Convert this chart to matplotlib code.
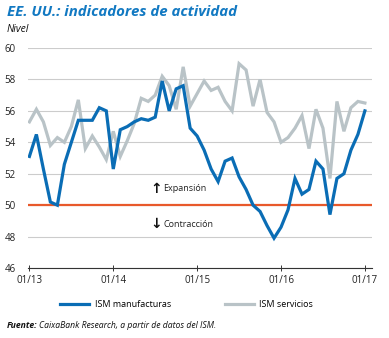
import matplotlib
matplotlib.use("Agg")
import matplotlib.pyplot as plt
from matplotlib.lines import Line2D

# monthly PMI readings, Jan 2013 - Jan 2017
ism_manufacturas = [
    53.1, 54.5, 52.3, 50.2, 50.0, 52.6, 54.0, 55.4, 55.4, 55.4, 56.2, 56.0,
    52.3, 54.8, 55.0, 55.3, 55.5, 55.4, 55.6, 57.9, 56.0, 57.4, 57.6, 54.9,
    54.4, 53.5, 52.3, 51.5, 52.8, 53.0, 51.8, 51.0, 50.0, 49.6, 48.7, 47.9,
    48.6, 49.7, 51.7, 50.7, 51.0, 52.8, 52.3, 49.4, 51.7, 52.0, 53.5, 54.5,
    56.0,
]
ism_servicios = [
    55.3, 56.1, 55.3, 53.8, 54.3, 54.0, 55.0, 56.7, 53.6, 54.4, 53.7, 52.9,
    54.7, 53.1, 54.1, 55.2, 56.8, 56.6, 57.0, 58.2, 57.6, 56.1, 58.8, 56.3,
    57.1, 57.9, 57.3, 57.5, 56.6, 56.0, 59.0, 58.6, 56.3, 58.0, 55.9, 55.3,
    54.0, 54.3, 54.9, 55.7, 53.6, 56.1, 54.9, 51.7, 56.6, 54.7, 56.2, 56.6,
    56.5,
]
tick_pos = [0, 12, 24, 36, 48]
tick_labels = ["01/13", "01/14", "01/15", "01/16", "01/17"]
umbral = 50

azul = "#0a6db5"
gris = "#b9c3c7"
naranja = "#e8592b"

plt.rcParams["font.family"] = ["Open Sans", "DejaVu Sans"]

fig = plt.figure(figsize=(3.89, 3.38), dpi=100)
ax = fig.add_axes([0.072, 0.207, 0.884, 0.651])

meses = list(range(len(ism_manufacturas)))
ax.plot(meses, ism_servicios, color=gris, lw=2.3, solid_joinstyle="miter", zorder=3)
ax.plot(meses, ism_manufacturas, color=azul, lw=2.3, solid_joinstyle="miter", zorder=4)
ax.axhline(umbral, color=naranja, lw=1.6, zorder=2)

ax.set_xlim(-0.2, 49.0)
ax.set_ylim(46, 60)
ax.set_yticks(range(46, 61, 2))
ax.set_xticks(tick_pos)
ax.set_xticklabels(tick_labels)
ax.grid(axis="y", color="#cccccc", lw=0.8, zorder=1)
for s in ["top", "right", "left"]:
    ax.spines[s].set_visible(False)
ax.spines["bottom"].set_color("#333333")
ax.spines["bottom"].set_linewidth(0.8)
ax.tick_params(axis="y", length=0, labelsize=7, colors="#222222", pad=9)
ax.tick_params(axis="x", direction="inout", length=4, width=0.7, color="#333333",
               labelsize=7, labelcolor="#222222", pad=3)

# expansion / contraction markers around the 50 threshold
ax.text(18.2, 51.05, "↑", fontsize=10, fontweight="bold", ha="center",
        va="center", color="#111111", family="DejaVu Sans")
ax.text(19.2, 51.05, "Expansión", fontsize=6.5, ha="left", va="center", color="#222222")
ax.text(18.2, 48.8, "↓", fontsize=10, fontweight="bold", ha="center",
        va="center", color="#111111", family="DejaVu Sans")
ax.text(19.2, 48.8, "Contracción", fontsize=6.5, ha="left", va="center", color="#222222")

fig.text(0.018, 0.965, "EE. UU.: indicadores de actividad", fontsize=10.8,
         fontweight="bold", fontstyle="italic", color="#1279c2", va="center")
fig.text(0.018, 0.912, "Nivel", fontsize=7.5, fontstyle="italic", color="#111111",
         va="center")

handles = [Line2D([], [], color=azul, lw=2.3), Line2D([], [], color=gris, lw=2.3)]
fig.legend(handles, ["ISM manufacturas", "ISM servicios"], loc="center",
           bbox_to_anchor=(0.48, 0.1), ncol=2, frameon=False, fontsize=6.5,
           handlelength=3.2, columnspacing=6.0, handletextpad=0.6)

fuente = fig.text(0.018, 0.038, "Fuente:", fontsize=6.2, fontweight="bold",
                  fontstyle="italic", color="#111111", va="center")
fig.canvas.draw()
bb = fuente.get_window_extent().transformed(fig.transFigure.inverted())
fig.text(bb.x1 + 0.004, 0.038, "CaixaBank Research, a partir de datos del ISM.",
         fontsize=6.2, fontstyle="italic", color="#111111", va="center")

fig.savefig("out.png", dpi=100)
